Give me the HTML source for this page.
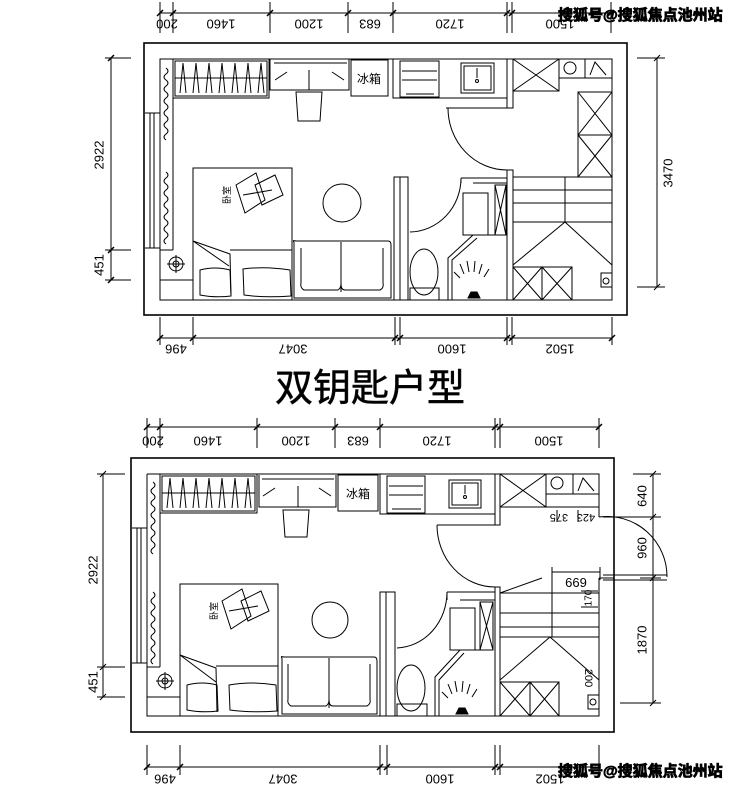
<!DOCTYPE html>
<html><head><meta charset="utf-8"><style>
html,body{margin:0;padding:0;background:#fff;}
svg{display:block;}
text{font-family:"Liberation Sans","Noto Sans CJK SC",sans-serif;fill:#000;}
.d{font-size:13px;}
</style></head><body>
<svg width="743" height="787" viewBox="0 0 743 787" xmlns="http://www.w3.org/2000/svg">
<g fill="none" stroke="#000" stroke-width="1">
<!-- ============ TOP PLAN ============ -->
<rect x="144" y="43" width="483" height="272" stroke-width="1.6"/>
<rect x="160" y="59" width="452" height="241"/>
<line x1="160" y1="13" x2="612" y2="13"/>
<path d="M160 2V33 M173 2V33 M270 2V33 M348 2V33 M393 2V33 M507 2V33 M512 2V33 M611 2V33"/>
<path d="M157 16l6-6 M170 16l6-6 M267 16l6-6 M345 16l6-6 M390 16l6-6 M504 16l6-6 M509 16l6-6 M608 16l6-6" stroke-width="1.5"/>
<line x1="111" y1="58" x2="111" y2="280"/>
<path d="M105 58H131 M105 250H131 M105 280H131"/>
<path d="M108 61l6-6 M108 253l6-6 M108 283l6-6" stroke-width="1.5"/>
<line x1="657" y1="58" x2="657" y2="287"/>
<path d="M637 58H665 M637 287H665 M654 61l6-6 M654 290l6-6"/>
<line x1="160" y1="338" x2="612" y2="338"/>
<path d="M160 317V345 M193 317V345 M395 317V345 M400 317V345 M507 317V345 M512 317V345 M612 317V345"/>
<path d="M157 341l6-6 M190 341l6-6 M392 341l6-6 M397 341l6-6 M504 341l6-6 M509 341l6-6 M609 341l6-6" stroke-width="1.5"/>
<path d="M145 113H160 M145 248H160 M150 113V248 M154 113V248"/>
<path d="M173 98V250 M160 250H173"/>
<path d="M166 68q4 3 0 6q-4 3 0 6q4 3 0 6q-4 3 0 6q4 3 0 6q-4 3 0 6q4 3 0 6q-4 3 0 6q4 3 0 6q-4 3 0 6q4 3 0 6q-4 3 0 6 M166 172q4 3 0 6q-4 3 0 6q4 3 0 6q-4 3 0 6q4 3 0 6q-4 3 0 6q4 3 0 6q-4 3 0 6q4 3 0 6q-4 3 0 6q4 3 0 6q-4 3 0 6"/>
<rect x="173" y="59" width="96" height="39"/>
<rect x="175" y="61" width="92" height="35"/>
<line x1="175" y1="78" x2="267" y2="78"/>
<path d="M183 63l-3 30 M183 63l3 30 M196 63l-3 30 M196 63l3 30 M209 63l-3 30 M209 63l3 30 M222 63l-3 30 M222 63l3 30 M235 63l-3 30 M235 63l3 30 M248 63l-3 30 M248 63l3 30 M261 63l-3 30 M261 63l3 30"/>
<path d="M270 59V90H349V59 M274 63H347 M275 80l12-8 M344 80l-12-8 M309 70V90"/>
<path d="M296 92L298 121H320L322 92Z"/>
<rect x="351" y="60" width="37" height="36"/>
<path d="M393 59V98H507"/>
<rect x="400" y="61" width="39" height="36"/>
<path d="M402 71H437 M402 80H437 M406 94H434"/>
<rect x="461" y="63" width="33" height="30"/>
<rect x="464" y="66" width="27" height="24"/>
<path d="M477 68V78"/><circle cx="477" cy="81" r="1.5"/>
<rect x="507" y="59" width="6" height="49"/>
<path d="M446 108H507"/>
<path d="M448 108A59 62 0 0 0 507 170"/>
<rect x="507" y="170" width="6" height="130"/>
<rect x="513" y="59" width="46" height="32"/><path d="M513 59L559 91M559 59L513 91"/>
<path d="M559 59V78H612 M585 59V78"/><circle cx="570" cy="68" r="6"/>
<path d="M590 75L595 62L606 75"/>
<rect x="578" y="92" width="34" height="85"/>
<path d="M578 135H612 M578 92L612 135M612 92L578 135 M578 135L612 177M612 135L578 177"/>
<path d="M513 177H612 M513 190H612 M513 203H612 M513 222H612 M565 177V222 M565 222L513 265 M565 222L612 265"/>
<rect x="513" y="267" width="59" height="33"/>
<path d="M542 267V300 M513 267L542 300M542 267L513 300 M542 267L572 300M572 267L542 300"/>
<rect x="601" y="273" width="11" height="14"/><circle cx="606" cy="281" r="3"/>
<rect x="394" y="177" width="14" height="123"/>
<path d="M400 177V300"/>
<path d="M410 232A52 54 0 0 0 461 178"/>
<path d="M461 178H507 M461 178V183 M473 183H507"/>
<rect x="463" y="193" width="25" height="42"/>
<rect x="495" y="185" width="11" height="50"/><path d="M495 185L506 235M506 185L495 235"/>
<path d="M473 235H506 M473 235L448 258V300 M477 238L452 260V300"/>
<ellipse cx="424" cy="272" rx="14" ry="23"/>
<rect x="410" y="288" width="29" height="12"/>
<path d="M464 274l-4-10 M469 272l-2-11 M474 272l1-11 M479 274l3-10 M484 277l5-8 M460 278l-6-6"/>
<path d="M468 298l3-6h6l3 6z" fill="#000"/>
<rect x="193" y="168" width="99" height="132"/>
<path d="M193 241L230 254L231 296 M193 241L229 266 M230 250H292"/>
<path d="M200 270Q215 266 230 270L231 296Q215 298 200 295Z M243 269Q265 266 290 270L291 296Q265 298 244 295Z"/>
<path d="M236 185L256 173L265 200L245 213Z M255 185L275 175L283 195L262 205Z M243 195L272 190"/>
<circle cx="342" cy="203" r="19"/>
<path d="M294 242Q292 240 296 241H388Q391 241 391 245V298H294Z"/>
<path d="M341 242V292 M301 283Q300 288 304 290H338Q341 288 341 284 M341 284Q341 290 345 290H380Q384 288 383 283 M301 283V248 M383 283V248"/>
<path d="M160 280H193V250"/>
<circle cx="176" cy="264" r="7"/><circle cx="176" cy="264" r="3"/><path d="M167 264H185M176 255V273"/>

<!-- ============ BOTTOM PLAN ============ -->
<rect x="131" y="458" width="483" height="274" stroke-width="1.6"/>
<path d="M147 474H599V517 M599 578V716H147V474"/>
<line x1="147" y1="427" x2="599" y2="427"/>
<path d="M147 418V448 M160 418V448 M257 418V448 M335 418V448 M380 418V448 M495 418V448 M500 418V448 M599 418V448"/>
<path d="M144 430l6-6 M157 430l6-6 M254 430l6-6 M332 430l6-6 M377 430l6-6 M492 430l6-6 M497 430l6-6 M596 430l6-6" stroke-width="1.5"/>
<line x1="103" y1="474" x2="103" y2="697"/>
<path d="M97 474H125 M97 667H125 M97 697H125 M100 477l6-6 M100 670l6-6 M100 700l6-6"/>
<line x1="653" y1="474" x2="653" y2="703"/>
<path d="M633 474H661 M603 517H661 M640 578H661 M620 703H661 M650 477l6-6 M650 520l6-6 M650 581l6-6 M650 706l6-6"/>
<path d="M552 572H600 M552 567V580 M600 567V580"/>
<path d="M581 591H598 M581 607H598"/>
<path d="M557 510V522 M578 510V522"/>
<line x1="147" y1="767" x2="599" y2="767"/>
<path d="M147 745V775 M180 745V775 M380 745V775 M387 745V775 M495 745V775 M500 745V775 M599 745V775"/>
<path d="M144 770l6-6 M177 770l6-6 M377 770l6-6 M384 770l6-6 M492 770l6-6 M497 770l6-6" stroke-width="1.5"/>
<path d="M132 528H147 M132 663H147 M137 528V663 M141 528V663"/>
<path d="M160 513V667 M147 667H160"/>
<path d="M153 482q4 3 0 6q-4 3 0 6q4 3 0 6q-4 3 0 6q4 3 0 6q-4 3 0 6q4 3 0 6q-4 3 0 6q4 3 0 6q-4 3 0 6q4 3 0 6q-4 3 0 6 M153 592q4 3 0 6q-4 3 0 6q4 3 0 6q-4 3 0 6q4 3 0 6q-4 3 0 6q4 3 0 6q-4 3 0 6q4 3 0 6q-4 3 0 6q4 3 0 6q-4 3 0 6"/>
<rect x="160" y="474" width="97" height="39"/>
<rect x="162" y="476" width="93" height="35"/>
<line x1="162" y1="493" x2="255" y2="493"/>
<path d="M170 478l-3 30 M170 478l3 30 M183 478l-3 30 M183 478l3 30 M196 478l-3 30 M196 478l3 30 M209 478l-3 30 M209 478l3 30 M222 478l-3 30 M222 478l3 30 M235 478l-3 30 M235 478l3 30 M248 478l-3 30 M248 478l3 30"/>
<path d="M259 475V507H336V475 M262 479H334 M263 496l12-8 M331 496l-12-8 M298 486V507"/>
<path d="M283 510L285 537H307L309 510Z"/>
<rect x="338" y="475" width="40" height="36"/>
<path d="M380 474V514H495"/>
<rect x="387" y="476" width="38" height="37"/>
<path d="M389 486H423 M389 495H423 M392 509H421"/>
<rect x="449" y="480" width="32" height="28"/>
<rect x="452" y="483" width="26" height="22"/>
<path d="M465 485V494"/><circle cx="465" cy="497" r="1.5"/>
<rect x="495" y="474" width="5" height="51"/>
<path d="M437 525H495"/>
<path d="M437 525A58 62 0 0 0 495 587"/>
<rect x="495" y="587" width="5" height="129"/>
<rect x="500" y="474" width="46" height="33"/><path d="M500 474L546 507M546 474L500 507"/>
<path d="M546 474V494H599 M573 474V494"/><circle cx="557" cy="483" r="6"/>
<path d="M578 491L583 478L594 491"/>
<path d="M546 507H599"/>
<path d="M599 517A60 60 0 0 1 667 577 M603 575H667 M603 580H667 M599 578H614"/>
<path d="M500 593H599 M500 613H599 M500 627H599 M500 637H599 M552 578V637 M500 593L542 578 M550 637L500 680 M550 637L599 680"/>
<rect x="500" y="682" width="59" height="34"/>
<path d="M530 682V716 M500 682L530 716M530 682L500 716 M530 682L559 716M559 682L530 716"/>
<rect x="588" y="695" width="11" height="14"/><circle cx="593" cy="702" r="3"/>
<rect x="380" y="592" width="15" height="124"/>
<path d="M386 592V716"/>
<path d="M397 648A52 56 0 0 0 447 592"/>
<path d="M447 592H495 M447 592V600 M460 600H495"/>
<rect x="450" y="608" width="25" height="42"/>
<rect x="480" y="602" width="13" height="48"/><path d="M480 602L493 650M493 602L480 650"/>
<path d="M460 650H493 M460 650L435 677V716 M464 653L439 680V716"/>
<ellipse cx="411" cy="688" rx="14" ry="23"/>
<rect x="397" y="704" width="30" height="12"/>
<path d="M452 694l-4-10 M457 692l-2-11 M462 692l1-11 M467 694l3-10 M472 697l5-8 M448 698l-6-6"/>
<path d="M456 714l3-6h6l3 6z" fill="#000"/>
<rect x="180" y="584" width="98" height="132"/>
<path d="M180 655L216 668L217 712 M180 655L216 682 M216 666H278"/>
<path d="M187 685Q202 681 217 685L218 711Q202 713 187 710Z M229 685Q252 681 276 685L277 711Q252 713 230 710Z"/>
<path d="M222 601L242 589L251 616L231 629Z M241 601L261 591L269 611L248 621Z M229 611L258 606"/>
<circle cx="330" cy="620" r="18"/>
<path d="M282 658Q280 656 284 657H374Q377 657 377 661V714H282Z"/>
<path d="M329 658V708 M288 699Q287 704 291 706H326Q329 704 329 700 M329 700Q329 706 333 706H367Q371 704 370 699 M288 699V664 M370 699V664"/>
<path d="M147 697H180V667"/>
<circle cx="165" cy="681" r="7"/><circle cx="165" cy="681" r="3"/><path d="M156 681H174M165 672V690"/>
</g>

<g>
<text transform="translate(167,23) rotate(180)" text-anchor="middle" dominant-baseline="middle" class="d">200</text>
<text transform="translate(221,23) rotate(180)" text-anchor="middle" dominant-baseline="middle" class="d">1460</text>
<text transform="translate(309,23) rotate(180)" text-anchor="middle" dominant-baseline="middle" class="d">1200</text>
<text transform="translate(370,23) rotate(180)" text-anchor="middle" dominant-baseline="middle" class="d">683</text>
<text transform="translate(450,23) rotate(180)" text-anchor="middle" dominant-baseline="middle" class="d">1720</text>
<text transform="translate(560,23) rotate(180)" text-anchor="middle" dominant-baseline="middle" class="d">1500</text>
<text transform="translate(100,155) rotate(-90)" text-anchor="middle" dominant-baseline="middle" class="d">2922</text>
<text transform="translate(100,265) rotate(-90)" text-anchor="middle" dominant-baseline="middle" class="d">451</text>
<text transform="translate(669,173) rotate(-90)" text-anchor="middle" dominant-baseline="middle" class="d">3470</text>
<text transform="translate(176,348) rotate(180)" text-anchor="middle" dominant-baseline="middle" class="d">496</text>
<text transform="translate(293,348) rotate(180)" text-anchor="middle" dominant-baseline="middle" class="d">3047</text>
<text transform="translate(452,348) rotate(180)" text-anchor="middle" dominant-baseline="middle" class="d">1600</text>
<text transform="translate(560,348) rotate(180)" text-anchor="middle" dominant-baseline="middle" class="d">1502</text>
<text x="369" y="83" text-anchor="middle" font-size="12" fill="#333">冰箱</text>
<text transform="translate(230,195) rotate(-90)" font-size="9" fill="#444" text-anchor="middle">卧室</text>

<text transform="translate(153,440) rotate(180)" text-anchor="middle" dominant-baseline="middle" class="d">200</text>
<text transform="translate(208,440) rotate(180)" text-anchor="middle" dominant-baseline="middle" class="d">1460</text>
<text transform="translate(296,440) rotate(180)" text-anchor="middle" dominant-baseline="middle" class="d">1200</text>
<text transform="translate(358,440) rotate(180)" text-anchor="middle" dominant-baseline="middle" class="d">683</text>
<text transform="translate(437,440) rotate(180)" text-anchor="middle" dominant-baseline="middle" class="d">1720</text>
<text transform="translate(549,440) rotate(180)" text-anchor="middle" dominant-baseline="middle" class="d">1500</text>
<text transform="translate(94,570) rotate(-90)" text-anchor="middle" dominant-baseline="middle" class="d">2922</text>
<text transform="translate(94,682) rotate(-90)" text-anchor="middle" dominant-baseline="middle" class="d">451</text>
<text transform="translate(643,496) rotate(-90)" text-anchor="middle" dominant-baseline="middle" class="d">640</text>
<text transform="translate(643,548) rotate(-90)" text-anchor="middle" dominant-baseline="middle" class="d">960</text>
<text transform="translate(643,640) rotate(-90)" text-anchor="middle" dominant-baseline="middle" class="d">1870</text>
<text transform="translate(589,598) rotate(-90)" text-anchor="middle" dominant-baseline="middle" font-size="10">170</text>
<text transform="translate(588,678) rotate(90)" text-anchor="middle" dominant-baseline="middle" font-size="11">200</text>
<text x="576" y="587" text-anchor="middle" class="d">669</text>
<text transform="translate(586,517) rotate(180)" text-anchor="middle" dominant-baseline="middle" font-size="11">423</text>
<text transform="translate(559,517) rotate(180)" text-anchor="middle" dominant-baseline="middle" font-size="11">375</text>
<text transform="translate(165,778) rotate(180)" text-anchor="middle" dominant-baseline="middle" class="d">496</text>
<text transform="translate(283,778) rotate(180)" text-anchor="middle" dominant-baseline="middle" class="d">3047</text>
<text transform="translate(440,778) rotate(180)" text-anchor="middle" dominant-baseline="middle" class="d">1600</text>
<text transform="translate(550,778) rotate(180)" text-anchor="middle" dominant-baseline="middle" class="d">1502</text>
<text x="358" y="498" text-anchor="middle" font-size="12" fill="#333">冰箱</text>
<text transform="translate(217,611) rotate(-90)" font-size="9" fill="#444" text-anchor="middle">卧室</text>
</g>

<text x="370" y="401" text-anchor="middle" font-size="38" fill="#111" stroke="#111" stroke-width="0.6">双钥匙户型</text>

<text x="558" y="20" font-size="15" font-weight="bold" fill="#fff" stroke="#000" stroke-width="0.8">搜狐号@搜狐焦点池州站</text>
<text x="558" y="776" font-size="15" font-weight="bold" fill="#fff" stroke="#000" stroke-width="0.8">搜狐号@搜狐焦点池州站</text>
</svg>
</body></html>
